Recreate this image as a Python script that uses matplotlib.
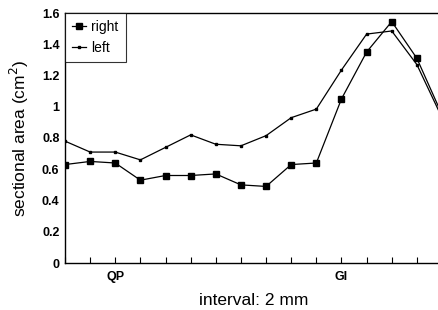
import matplotlib
matplotlib.use("Agg")
import matplotlib.pyplot as plt

plt.rcParams['font.family'] = ['Liberation Sans', 'DejaVu Sans']

intervals = list(range(16))
right = [0.63, 0.65, 0.64, 0.53, 0.56, 0.56, 0.57, 0.50, 0.49, 0.63, 0.64,
         1.05, 1.35, 1.545, 1.31, 0.95]
left = [0.78, 0.71, 0.71, 0.66, 0.74, 0.82, 0.76, 0.75, 0.815, 0.93, 0.985,
        1.235, 1.465, 1.485, 1.27, 0.93]
xtick_labels = {2: "QP", 11: "GI"}
yticks = [0, 0.2, 0.4, 0.6, 0.8, 1.0, 1.2, 1.4, 1.6]
ytick_labels = ["0", "0.2", "0.4", "0.6", "0.8", "1", "1.2", "1.4", "1.6"]

fig = plt.figure(figsize=(4.38, 3.10), dpi=100)
ax = fig.add_axes([65/438, 47/310, 377/438, 250/310])

ax.plot(intervals, right, color='black', lw=0.9, marker='s', markersize=5,
        label='right')
ax.plot(intervals, left, color='black', lw=0.9, marker='s', markersize=2.0,
        label='left')

ax.set_xlim(0, 15)
ax.set_ylim(0, 1.6)
ax.set_yticks(yticks)
ax.set_yticklabels(ytick_labels, fontsize=9, fontweight='bold')
ax.set_xticks(intervals)
ax.set_xticklabels([xtick_labels.get(i, "") for i in intervals],
                   fontsize=9, fontweight='bold')
ax.tick_params(axis='x', direction='in', length=4, width=0.8, pad=6)
ax.tick_params(axis='y', length=0, pad=4)
for s in ['left', 'bottom', 'top']:
    ax.spines[s].set_linewidth(1.0)
ax.spines['right'].set_visible(False)

ax.set_ylabel("sectional area (cm$^2$)", fontsize=12.5, labelpad=8)
ax.set_xlabel("interval: 2 mm", fontsize=12.5, labelpad=7)

leg = ax.legend(loc='upper left', fontsize=10, frameon=True, fancybox=False,
                handlelength=1.0, handletextpad=0.4, borderaxespad=0,
                borderpad=0.5, labelspacing=0.5)
leg.get_frame().set_edgecolor('black')
leg.get_frame().set_linewidth(0.8)

fig.savefig("out.png", dpi=100)
